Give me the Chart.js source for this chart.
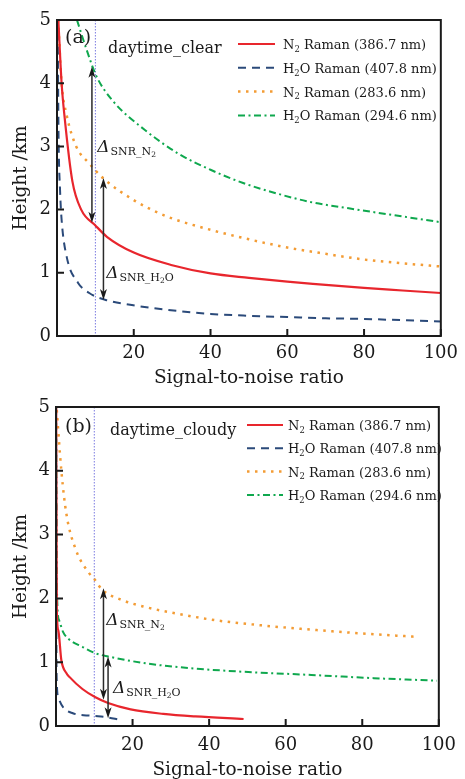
<!DOCTYPE html>
<html>
<head>
<meta charset="utf-8">
<script src="https://cdn.jsdelivr.net/npm/chart.js@4.4.0/dist/chart.umd.min.js"></script>
<style>
  html, body { margin: 0; padding: 0; background: #fff; }
  canvas { position: absolute; left: 0; }
  #chartA { top: 0; }
  #chartB { top: 390px; }
</style>
</head>
<body>
<canvas id="chartA" width="465" height="390"></canvas>
<canvas id="chartB" width="465" height="389"></canvas>
<script>
const serif = "'DejaVu Serif', 'Liberation Serif', serif";

// shared
const seriesLabels = ['N₂ Raman (386.7 nm)', 'H₂O Raman (407.8 nm)', 'N₂ Raman (283.6 nm)', 'H₂O Raman (294.6 nm)'];
const xTicks = [0, 20, 40, 60, 80, 100];
const yTicks = [0, 1, 2, 3, 4, 5];
const snrMark = 10;

// (a) daytime_clear
const clearN2visX = [0.35, 1.2, 2, 4, 6.3, 10, 13, 20, 30, 40, 50, 60, 70, 80, 90, 100];
const clearN2visY = [5.0, 4.0, 3.45, 2.45, 2.0, 1.75, 1.57, 1.32, 1.12, 0.99, 0.92, 0.86, 0.81, 0.76, 0.72, 0.68];
const clearH2OvisX = [0.2, 0.4, 0.8, 1.2, 2.5, 5.5, 8.4, 12.7, 19.5, 28, 40, 50, 60, 70, 80, 90, 100];
const clearH2OvisY = [4.8, 3.2, 2.3, 1.84, 1.26, 0.84, 0.68, 0.57, 0.49, 0.42, 0.35, 0.32, 0.3, 0.28, 0.27, 0.25, 0.23];
const clearN2uvX = [0.3, 1.2, 2.5, 5, 8.4, 10, 12.7, 20, 26, 30, 40, 50, 60, 70, 80, 90, 100];
const clearN2uvY = [5.0, 4.0, 3.5, 3.0, 2.73, 2.62, 2.46, 2.15, 1.96, 1.86, 1.68, 1.53, 1.4, 1.3, 1.21, 1.15, 1.1];
const clearH2OuvX = [5.2, 7.6, 10.2, 14.4, 22.9, 31.5, 40, 48.5, 57, 66, 76, 88, 100];
const clearH2OuvY = [5.0, 4.55, 4.12, 3.73, 3.26, 2.89, 2.63, 2.42, 2.26, 2.12, 2.02, 1.91, 1.8];
const clearArrowX = [9.1, 12.1];
const clearArrowTop = [4.26, 2.5];
const clearArrowBottom = [1.79, 0.57];
const clearTagX = [10.5, 12.8];
const clearTagY = [2.91, 0.92];

// (b) daytime_cloudy
const cloudyN2visX = [0.05, 0.2, 0.6, 1.4, 2.7, 3.5, 6.9, 10.3, 13.6, 19.5, 28, 36.4, 49];
const cloudyN2visY = [5.0, 1.85, 1.5, 1.03, 0.83, 0.77, 0.58, 0.45, 0.36, 0.26, 0.19, 0.15, 0.11];
const cloudyH2OvisX = [0.02, 0.1, 0.2, 0.6, 1.8, 4.4, 9.4, 13, 16.6];
const cloudyH2OvisY = [5.0, 1.5, 0.7, 0.45, 0.3, 0.2, 0.16, 0.14, 0.1];
const cloudyN2uvX = [0.2, 1.4, 2.7, 5.2, 8.6, 10.3, 12, 17, 23.7, 30, 41.4, 55, 66.7, 80, 93.6];
const cloudyN2uvY = [4.95, 4.0, 3.33, 2.76, 2.4, 2.28, 2.14, 1.98, 1.86, 1.78, 1.66, 1.57, 1.51, 1.45, 1.4];
const cloudyH2OuvX = [0.02, 0.3, 0.8, 1.8, 3, 6.9, 10.3, 13.6, 23.7, 36.4, 49, 66.7, 83, 99.5];
const cloudyH2OuvY = [5.0, 2.0, 1.66, 1.48, 1.38, 1.24, 1.14, 1.09, 0.98, 0.9, 0.85, 0.8, 0.75, 0.71];
const cloudyArrowX = [12.4, 13.6];
const cloudyArrowTop = [2.16, 1.09];
const cloudyArrowBottom = [0.41, 0.12];
const cloudyTagX = [13.1, 14.9];
const cloudyTagY = [1.58, 0.52];

const lineStyles = [
    { color: '#e8262d', dash: [], width: 2.2 },
    { color: '#2b4a7a', dash: [8, 6], width: 2 },
    { color: '#f39c35', dash: [2.5, 5.5], width: 2.5 },
    { color: '#0fa84e', dash: [7, 3.5, 2, 3.5], width: 2 }
];

function toPoints(xs, ys) {
    return xs.map((x, i) => ({ x: x, y: ys[i] }));
}

// draws text, turning '₂' into a real subscript
function drawSubText(ctx, text, x, y, size) {
    let cx = x;
    for (const ch of text) {
        if (ch === '₂') {
            ctx.font = (size * 0.65) + 'px ' + serif;
            ctx.fillText('2', cx, y + size * 0.22);
            cx += ctx.measureText('2').width;
        } else {
            ctx.font = size + 'px ' + serif;
            ctx.fillText(ch, cx, y);
            cx += ctx.measureText(ch).width;
        }
    }
}

// Δ SNR_N2 / Δ SNR_H2O tags
function drawDeltaTag(ctx, x, y, gas) {
    const parts = [{ t: 'Δ', f: 'italic 17px ' + serif, dy: 0 }];
    if (gas === 'N2') {
        parts.push({ t: 'SNR_N', f: '11px ' + serif, dy: 3 }, { t: '2', f: '7.5px ' + serif, dy: 5 });
    } else {
        parts.push({ t: 'SNR_H', f: '11px ' + serif, dy: 3 }, { t: '2', f: '7.5px ' + serif, dy: 5 }, { t: 'O', f: '11px ' + serif, dy: 3 });
    }
    let cx = x;
    for (const p of parts) {
        ctx.font = p.f;
        ctx.fillText(p.t, cx, y + p.dy);
        cx += ctx.measureText(p.t).width + (p.t === 'Δ' ? 1 : 0);
    }
}

function arrowHead(ctx, x, y, dir) {
    ctx.beginPath();
    ctx.moveTo(x, y);
    ctx.lineTo(x - 3.5, y - dir * 11);
    ctx.lineTo(x, y - dir * 8);
    ctx.lineTo(x + 3.5, y - dir * 11);
    ctx.closePath();
    ctx.fill();
}

const panelPlugin = {
    id: 'panelDecor',
    beforeDatasetsDraw(chart) {
        const { ctx, chartArea: a, scales: { x, y } } = chart;
        const px = x.getPixelForValue(snrMark);
        ctx.save();
        ctx.strokeStyle = '#7a7ae0';
        ctx.lineWidth = 1;
        ctx.setLineDash([1.5, 1.5]);
        ctx.beginPath();
        ctx.moveTo(px, a.top);
        ctx.lineTo(px, a.bottom);
        ctx.stroke();
        ctx.restore();
    },
    afterDatasetsDraw(chart, args, opts) {
        const { ctx, chartArea: a, scales: { x, y } } = chart;
        ctx.save();
        // arrows
        ctx.strokeStyle = '#2a2a2a';
        ctx.fillStyle = '#1a1a1a';
        ctx.lineWidth = 1.5;
        opts.arrowX.forEach((v, i) => {
            const px = x.getPixelForValue(v);
            const top = y.getPixelForValue(opts.arrowTop[i]);
            const bot = y.getPixelForValue(opts.arrowBottom[i]);
            ctx.beginPath();
            ctx.moveTo(px, top + 6);
            ctx.lineTo(px, bot - 6);
            ctx.stroke();
            arrowHead(ctx, px, top, -1);
            arrowHead(ctx, px, bot, 1);
        });
        ctx.fillStyle = '#1a1a1a';
        ctx.textBaseline = 'alphabetic';
        ctx.textAlign = 'left';
        drawDeltaTag(ctx, x.getPixelForValue(opts.tagX[0]), y.getPixelForValue(opts.tagY[0]), 'N2');
        drawDeltaTag(ctx, x.getPixelForValue(opts.tagX[1]), y.getPixelForValue(opts.tagY[1]), 'H2O');

        // frame and inward ticks
        ctx.strokeStyle = '#1a1a1a';
        ctx.lineWidth = 2;
        ctx.strokeRect(a.left, a.top, a.right - a.left, a.bottom - a.top);
        ctx.beginPath();
        x.ticks.forEach(t => {
            const px = x.getPixelForValue(t.value);
            ctx.moveTo(px, a.bottom);
            ctx.lineTo(px, a.bottom - 7);
        });
        y.ticks.forEach(t => {
            const py = y.getPixelForValue(t.value);
            ctx.moveTo(a.left, py);
            ctx.lineTo(a.left + 7, py);
        });
        ctx.stroke();

        // panel tag and case name
        ctx.fillStyle = '#1a1a1a';
        ctx.textBaseline = 'middle';
        ctx.font = '19px ' + serif;
        ctx.fillText(opts.tag, opts.tagPos[0], opts.tagPos[1]);
        ctx.font = '16px ' + serif;
        ctx.fillText(opts.caseName, opts.casePos[0], opts.casePos[1]);

        // legend
        chart.data.datasets.forEach((ds, i) => {
            const ry = opts.legend.y0 + i * opts.legend.dy;
            ctx.strokeStyle = ds.borderColor;
            ctx.lineWidth = ds.borderWidth;
            ctx.setLineDash(ds.borderDash);
            ctx.beginPath();
            ctx.moveTo(opts.legend.x, ry);
            ctx.lineTo(opts.legend.x + opts.legend.len, ry);
            ctx.stroke();
            ctx.setLineDash([]);
            ctx.fillStyle = '#1a1a1a';
            ctx.textBaseline = 'alphabetic';
            drawSubText(ctx, ds.label, opts.legend.textX, ry + 5, 13);
        });
        ctx.restore();
    }
};

function makePanel(id, series, geo, decor) {
    const datasets = series.map((s, i) => ({
        label: seriesLabels[i],
        data: toPoints(s[0], s[1]),
        borderColor: lineStyles[i].color,
        borderDash: lineStyles[i].dash,
        borderWidth: lineStyles[i].width,
        pointRadius: 0,
        fill: false,
        cubicInterpolationMode: 'monotone'
    }));

    return new Chart(document.getElementById(id), {
        type: 'line',
        data: { datasets: datasets },
        options: {
            responsive: false,
            animation: false,
            layout: { padding: { left: 0, right: geo.right, top: geo.top, bottom: 0 } },
            plugins: {
                legend: { display: false },
                tooltip: { enabled: false },
                panelDecor: decor
            },
            scales: {
                x: {
                    type: 'linear',
                    min: 0,
                    max: 100,
                    grid: { display: false, drawTicks: false },
                    border: { display: false },
                    afterBuildTicks: s => { s.ticks = xTicks.map(v => ({ value: v })); },
                    afterFit: s => { s.height = geo.xHeight; },
                    ticks: {
                        padding: geo.xTickPad,
                        color: '#1a1a1a',
                        maxRotation: 0,
                        font: { family: serif, size: 18 },
                        callback: v => (v === 0 ? '' : String(v))
                    },
                    title: {
                        display: true,
                        text: 'Signal-to-noise ratio',
                        color: '#1a1a1a',
                        font: { family: serif, size: 18.5, lineHeight: 1 },
                        padding: { top: 0, bottom: geo.xTitlePad }
                    }
                },
                y: {
                    min: 0,
                    max: 5,
                    grid: { display: false, drawTicks: false },
                    border: { display: false },
                    afterBuildTicks: s => { s.ticks = yTicks.map(v => ({ value: v })); },
                    afterFit: s => { s.width = geo.yWidth; },
                    ticks: {
                        padding: 6,
                        color: '#1a1a1a',
                        font: { family: serif, size: 18 }
                    },
                    title: {
                        display: true,
                        text: 'Height /km',
                        color: '#1a1a1a',
                        font: { family: serif, size: 18.5, lineHeight: 1 },
                        padding: { top: 11.75, bottom: 0 }
                    }
                }
            }
        },
        plugins: [panelPlugin]
    });
}

makePanel('chartA',
    [[clearN2visX, clearN2visY], [clearH2OvisX, clearH2OvisY], [clearN2uvX, clearN2uvY], [clearH2OuvX, clearH2OuvY]],
    { top: 20, right: 17, yWidth: 57, xHeight: 54, xTickPad: 7, xTitlePad: 2.75 },
    {
        arrowX: clearArrowX, arrowTop: clearArrowTop, arrowBottom: clearArrowBottom,
        tagX: clearTagX, tagY: clearTagY,
        tag: '(a)', tagPos: [65, 38],
        caseName: 'daytime_clear', casePos: [108, 49],
        legend: { x: 238, len: 37, textX: 283, y0: 44, dy: 23.8 }
    });

makePanel('chartB',
    [[cloudyN2visX, cloudyN2visY], [cloudyH2OvisX, cloudyH2OvisY], [cloudyN2uvX, cloudyN2uvY], [cloudyH2OuvX, cloudyH2OuvY]],
    { top: 17, right: 13, yWidth: 56, xHeight: 53, xTickPad: 9, xTitlePad: 0 },
    {
        arrowX: cloudyArrowX, arrowTop: cloudyArrowTop, arrowBottom: cloudyArrowBottom,
        tagX: cloudyTagX, tagY: cloudyTagY,
        tag: '(b)', tagPos: [65, 37],
        caseName: 'daytime_cloudy', casePos: [110, 41],
        legend: { x: 247, len: 36, textX: 288, y0: 35, dy: 23.3 }
    });
</script>
</body>
</html>
